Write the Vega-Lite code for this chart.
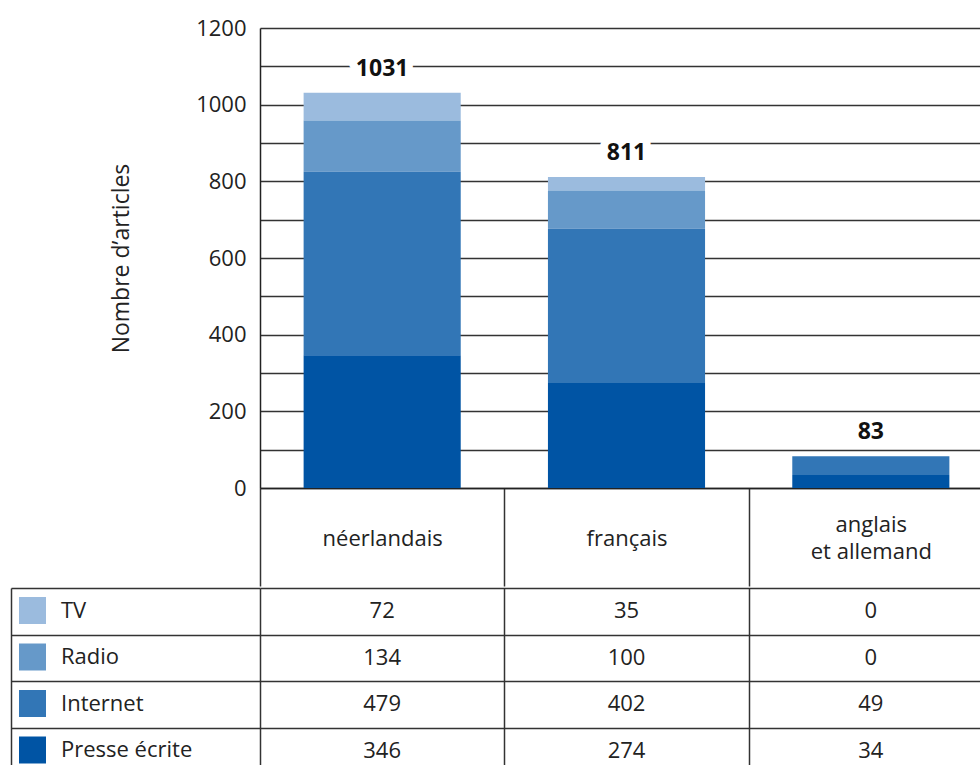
{
  "$schema": "https://vega.github.io/schema/vega-lite/v6.json",
  "padding": {"left": 10, "top": 17, "right": 5, "bottom": 5},
  "background": "white",
  "spacing": 0,
  "config": {
    "font": "Open Sans",
    "view": {"stroke": null},
    "axis": {"labelFont": "Open Sans", "titleFont": "Open Sans", "labelColor": "#222", "titleColor": "#222"},
    "legend": {"labelFont": "Open Sans"}
  },
  "datasets": {
    "articles": [
      {"langue": "néerlandais", "media": "TV", "rang": 4, "n": 72},
      {"langue": "néerlandais", "media": "Radio", "rang": 3, "n": 134},
      {"langue": "néerlandais", "media": "Internet", "rang": 2, "n": 479},
      {"langue": "néerlandais", "media": "Presse écrite", "rang": 1, "n": 346},
      {"langue": "français", "media": "TV", "rang": 4, "n": 35},
      {"langue": "français", "media": "Radio", "rang": 3, "n": 100},
      {"langue": "français", "media": "Internet", "rang": 2, "n": 402},
      {"langue": "français", "media": "Presse écrite", "rang": 1, "n": 274},
      {"langue": "anglais et allemand", "media": "TV", "rang": 4, "n": 0},
      {"langue": "anglais et allemand", "media": "Radio", "rang": 3, "n": 0},
      {"langue": "anglais et allemand", "media": "Internet", "rang": 2, "n": 49},
      {"langue": "anglais et allemand", "media": "Presse écrite", "rang": 1, "n": 34}
    ]
  },
  "vconcat": [
    {
      "width": 733,
      "height": 460,
      "data": {"name": "articles"},
      "encoding": {
        "x": {
          "field": "langue",
          "type": "nominal",
          "sort": ["néerlandais", "français", "anglais et allemand"],
          "scale": {"type": "band", "paddingInner": 0.357, "paddingOuter": 0.1785},
          "axis": {
            "title": null,
            "orient": "bottom",
            "domain": true,
            "domainColor": "#222",
            "domainWidth": 1.5,
            "ticks": true,
            "tickOffset": -122.2,
            "labelOffset": 122.2,
            "tickSize": 98,
            "tickColor": "#333",
            "tickWidth": 1.5,
            "labelFontSize": 22,
            "labelPadding": {"condition": {"test": "datum.value == 'anglais et allemand'", "value": -62}, "value": -48},
            "labelBaseline": "middle",
            "labelAngle": 0,
            "labelLineHeight": 27,
            "labelExpr": "datum.value == 'anglais et allemand' ? ['anglais', 'et allemand'] : datum.value",
            "grid": false
          }
        }
      },
      "layer": [
        {
          "mark": {"type": "bar"},
          "encoding": {
            "y": {
              "field": "n",
              "type": "quantitative",
              "stack": "zero",
              "scale": {"domain": [0, 1200]},
              "axis": {
                "title": "Nombre d’articles",
                "titleFontSize": 23,
                "titleFontWeight": "normal",
                "titlePadding": 62,
                "tickCount": 12,
                "format": "d",
                "labelExpr": "datum.value % 200 == 0 ? datum.label : ''",
                "labelFontSize": 22,
                "labelPadding": 14,
                "ticks": false,
                "domain": true,
                "domainColor": "#222",
                "domainWidth": 1.5,
                "grid": true,
                "gridColor": "#333",
                "gridWidth": 1.5
              }
            },
            "order": {"field": "rang", "type": "quantitative", "sort": "ascending"},
            "color": {
              "field": "media",
              "type": "nominal",
              "scale": {
                "domain": ["Presse écrite", "Internet", "Radio", "TV"],
                "range": ["#0054a4", "#3276b6", "#6699c9", "#9bbbde"]
              },
              "legend": {
                "orient": "none",
                "legendX": -241,
                "legendY": 569,
                "title": null,
                "values": ["TV", "Radio", "Internet", "Presse écrite"],
                "symbolType": "square",
                "symbolSize": 729,
                "symbolStrokeWidth": 0,
                "symbolOpacity": 1,
                "labelFontSize": 22,
                "labelOffset": 15,
                "rowPadding": 19.5,
                "labelColor": "#222",
                "padding": 0
              }
            }
          }
        },
        {
          "mark": {"type": "text", "fontSize": 23, "fontWeight": "bold", "stroke": "white", "strokeWidth": 16, "strokeJoin": "round", "fill": "white", "dy": -24},
          "encoding": {
            "y": {"aggregate": "sum", "field": "n", "type": "quantitative"},
            "text": {"aggregate": "sum", "field": "n", "type": "quantitative"}
          }
        },
        {
          "mark": {"type": "text", "fontSize": 23, "fontWeight": "bold", "color": "#111", "dy": -24},
          "encoding": {
            "y": {"aggregate": "sum", "field": "n", "type": "quantitative"},
            "text": {"aggregate": "sum", "field": "n", "type": "quantitative"}
          }
        }
      ]
    },
    {
      "width": 733,
      "height": 186,
      "data": {"name": "articles"},
      "mark": {"type": "text", "fontSize": 22, "color": "#222"},
      "encoding": {
        "x": {
          "field": "langue",
          "type": "nominal",
          "sort": ["néerlandais", "français", "anglais et allemand"],
          "scale": {"type": "band", "paddingInner": 0, "paddingOuter": 0},
          "axis": {
            "orient": "top",
            "title": null,
            "labels": false,
            "ticks": false,
            "domain": false,
            "grid": true,
            "tickBand": "extent",
            "gridColor": "#333",
            "gridWidth": 1.5
          }
        },
        "y": {
          "field": "media",
          "type": "nominal",
          "sort": ["TV", "Radio", "Internet", "Presse écrite"],
          "scale": {"type": "band", "paddingInner": 0, "paddingOuter": 0},
          "axis": {
            "title": null,
            "labels": false,
            "offset": 249,
            "ticks": true,
            "tickSize": -249,
            "tickBand": "extent",
            "tickColor": "#333",
            "tickWidth": 1.5,
            "domain": true,
            "domainColor": "#333",
            "domainWidth": 1.5,
            "grid": true,
            "gridColor": "#333",
            "gridWidth": 1.5
          }
        },
        "text": {"field": "n", "type": "quantitative"}
      }
    }
  ]
}
